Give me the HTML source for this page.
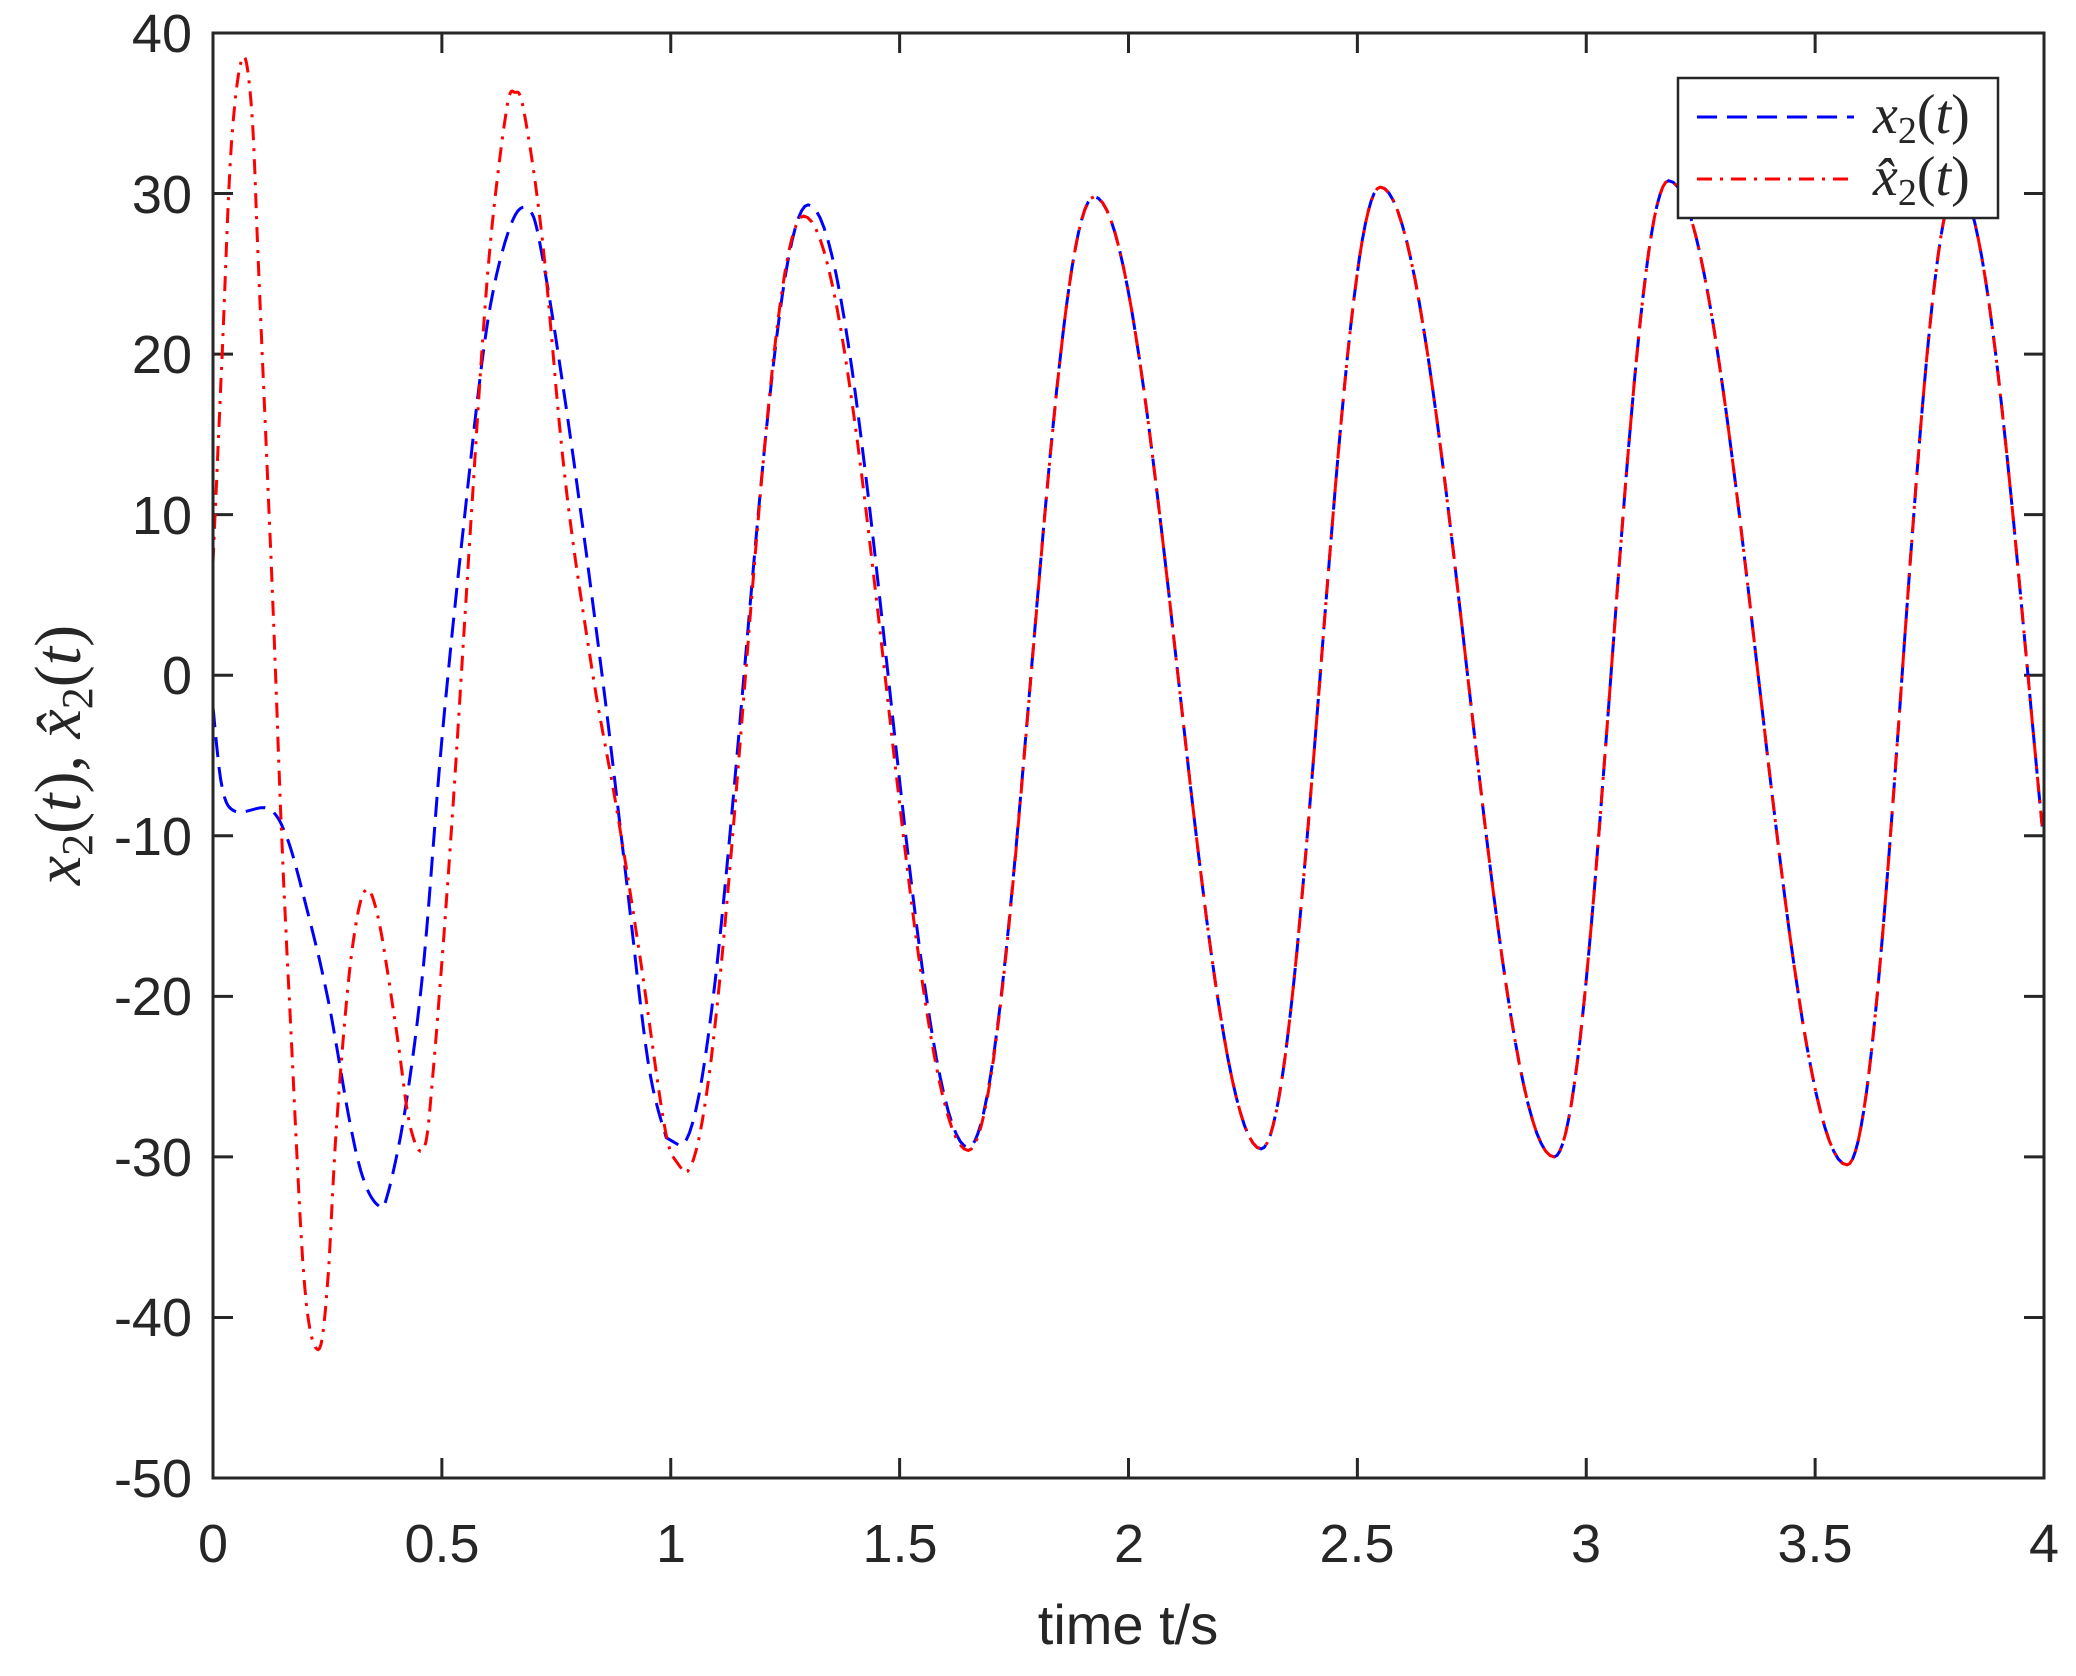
<!DOCTYPE html>
<html><head><meta charset="utf-8"><style>
html,body{margin:0;padding:0;background:#fff;}
svg{display:block;}
text{font-family:"Liberation Sans",sans-serif;fill:#262626;}
.m{font-family:"Liberation Serif",serif;font-style:italic;}
</style></head><body>
<svg id="s" width="2076" height="1676" viewBox="0 0 2076 1676" xmlns="http://www.w3.org/2000/svg">
<rect width="2076" height="1676" fill="#fff"/>
<g id="ticks" stroke="#262626" stroke-width="3"></g>
<g font-size="54" text-anchor="end">
<text x="192" y="52">40</text>
<text x="192" y="213">30</text>
<text x="192" y="373">20</text>
<text x="192" y="534">10</text>
<text x="192" y="694">0</text>
<text x="192" y="855">-10</text>
<text x="192" y="1015">-20</text>
<text x="192" y="1176">-30</text>
<text x="192" y="1336">-40</text>
<text x="192" y="1497">-50</text>
</g>
<g font-size="54" text-anchor="middle">
<text x="213" y="1562">0</text>
<text x="442" y="1562">0.5</text>
<text x="671" y="1562">1</text>
<text x="900" y="1562">1.5</text>
<text x="1129" y="1562">2</text>
<text x="1357" y="1562">2.5</text>
<text x="1586" y="1562">3</text>
<text x="1815" y="1562">3.5</text>
<text x="2044" y="1562">4</text>
<text x="1128" y="1644" font-size="56">time t/s</text>
</g>
<text class="m" font-size="66" text-anchor="middle" transform="translate(80,755) rotate(-90)">x<tspan font-size="44" dy="12" font-style="normal">2</tspan><tspan dy="-12" font-style="normal">(</tspan>t<tspan font-style="normal">), </tspan>x̂<tspan font-size="44" dy="12" font-style="normal">2</tspan><tspan dy="-12" font-style="normal">(</tspan>t<tspan font-style="normal">)</tspan></text>
<g id="lines"></g>
<rect x="213" y="33" width="1831" height="1445" fill="none" stroke="#262626" stroke-width="3"/>
<rect x="1678" y="78" width="320" height="140" fill="#fff" stroke="#262626" stroke-width="2.5"/>
<line x1="1697" y1="117" x2="1854" y2="117" stroke="#0000ff" stroke-width="3" stroke-dasharray="20,10"/>
<line x1="1697" y1="179" x2="1854" y2="179" stroke="#ff0000" stroke-width="3" stroke-dasharray="15,8,3,8"/>
<text class="m" x="1873" y="133" font-size="56">x<tspan font-size="38" dy="10" font-style="normal">2</tspan><tspan dy="-10" font-style="normal">(</tspan>t<tspan font-style="normal">)</tspan></text>
<text class="m" x="1873" y="195" font-size="56">x̂<tspan font-size="38" dy="10" font-style="normal">2</tspan><tspan dy="-10" font-style="normal">(</tspan>t<tspan font-style="normal">)</tspan></text>
</svg>
<script>
var L=213,R=2044,T=33,B=1478;
function X(t){return L+(R-L)*t/4;}
function Y(v){return T+(40-v)*(B-T)/90;}
var tk=document.getElementById('ticks'),h='';
for(var i=0;i<=8;i++){var x=X(i*0.5);h+='<line x1="'+x+'" y1="'+B+'" x2="'+x+'" y2="'+(B-20)+'"/><line x1="'+x+'" y1="'+T+'" x2="'+x+'" y2="'+(T+20)+'"/>';}
for(var v=-50;v<=40;v+=10){var y=Y(v);h+='<line x1="'+L+'" y1="'+y+'" x2="'+(L+20)+'" y2="'+y+'"/><line x1="'+R+'" y1="'+y+'" x2="'+(R-20)+'" y2="'+y+'"/>';}
tk.innerHTML=h;
var blue=[[0,-2],[0.02,-7],[0.05,-8.5],[0.12,-8.3],[0.16,-10],[0.2,-14],[0.25,-20],[0.3,-28],[0.33,-31.5],[0.36,-33],[0.38,-32.5],[0.42,-27],[0.46,-18],[0.5,-4],[0.55,10],[0.6,22],[0.65,28],[0.69,29],[0.72,26],[0.78,15],[0.85,0],[0.9,-12],[0.95,-24],[0.99,-28.8]];
var red=[[0,7],[0.02,20],[0.04,33],[0.065,38.5],[0.085,35],[0.1,25],[0.13,5],[0.15,-10],[0.17,-22],[0.2,-38],[0.23,-42],[0.25,-38],[0.27,-28],[0.3,-18],[0.33,-13.5],[0.36,-15],[0.4,-22],[0.43,-28],[0.46,-29.5],[0.48,-25],[0.52,-10],[0.56,8],[0.6,25],[0.64,35],[0.66,36.3],[0.68,35],[0.72,27],[0.77,12],[0.83,0],[0.88,-8],[0.93,-17],[0.98,-27],[1.0,-29.8]];
var exB=[[1.02,-29.3],[1.30,29.3],[1.65,-29.4],[1.925,29.8],[2.29,-29.5],[2.55,30.4],[2.93,-30],[3.18,30.8],[3.57,-30.5],[3.81,30.5],[4.12,-30.5]];
var exR=[[1.03,-31],[1.29,28.6],[1.65,-29.6],[1.925,29.8],[2.29,-29.5],[2.55,30.4],[2.93,-30],[3.18,30.8],[3.57,-30.5],[3.81,30.5],[4.12,-30.5]];
function smooth(arr){var out=[];for(var i=0;i<arr.length-1;i++){var p0=arr[Math.max(0,i-1)],p1=arr[i],p2=arr[i+1],p3=arr[Math.min(arr.length-1,i+2)];for(var k=0;k<8;k++){var s=k/8,s2=s*s,s3=s2*s;var f=function(a,b,c,d){return 0.5*((2*b)+(-a+c)*s+(2*a-5*b+4*c-d)*s2+(-a+3*b-3*c+d)*s3);};out.push([f(p0[0],p1[0],p2[0],p3[0]),f(p0[1],p1[1],p2[1],p3[1])]);}}out.push(arr[arr.length-1]);return out;}
function tail(ex){var out=[];for(var i=0;i<ex.length-1;i++){var a=ex[i],b=ex[i+1],m=(a[1]+b[1])/2,hh=(a[1]-b[1])/2;for(var k=0;k<40;k++){var s=k/40,t=a[0]+(b[0]-a[0])*s;if(t>4)return out;out.push([t,m+hh*Math.cos(Math.PI*s)]);}}return out;}
var bp=smooth(blue).concat(tail(exB)),rp=smooth(red).concat(tail(exR));
function path(arr){return arr.map(function(p,i){return (i?'L':'M')+X(p[0]).toFixed(1)+','+Y(p[1]).toFixed(1);}).join('');}
document.getElementById('lines').innerHTML='<path d="'+path(bp)+'" fill="none" stroke="#0000ff" stroke-width="3" stroke-dasharray="20,10"/><path d="'+path(rp)+'" fill="none" stroke="#ff0000" stroke-width="3" stroke-dasharray="15,8,3,8"/>';
</script>
</body></html>
